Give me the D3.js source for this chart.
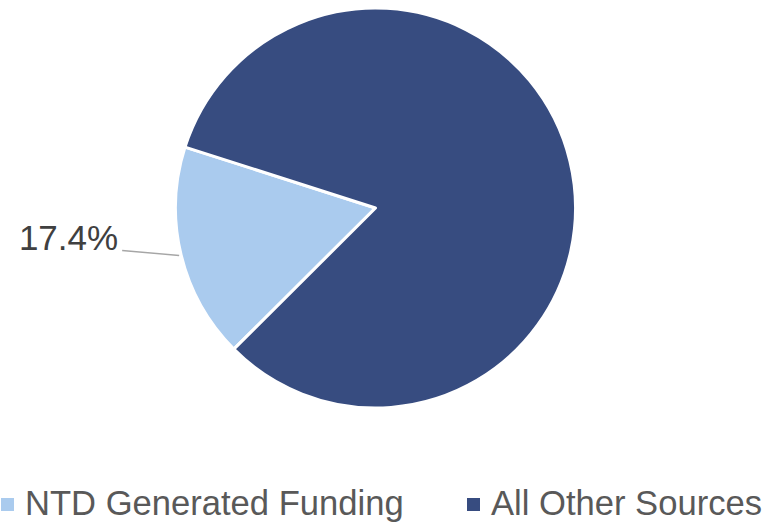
<!DOCTYPE html>
<html>
<head>
<meta charset="utf-8">
<script src="https://cdn.jsdelivr.net/npm/d3@7"></script>
<style>
  body { margin: 0; background: #fff; }
  text { font-family: "Liberation Sans", Arial, sans-serif; fill: #595959; }
</style>
</head>
<body>
<div id="chart"></div>
<script>
// values
let categories = ['NTD Generated Funding', 'All Other Sources']
let values = [17.4, 82.6]
let colors = ['#aacbee', '#374c80']
let labelled = ['NTD Generated Funding']

let width = 778
let height = 524
let cx = 375.5
let cy = 208
let radius = 200

let svg = d3.select('#chart').append('svg')
  .attr('width', width)
  .attr('height', height)

let color = d3.scaleOrdinal().domain(categories).range(colors)

let pie = d3.pie()
  .sort(null)
  .value(d => d.value)
  .startAngle(225.1 * Math.PI / 180)
  .endAngle((225.1 + 360) * Math.PI / 180)

let data = categories.map((c, i) => ({name: c, value: values[i]}))
let arcs = pie(data)

let arc = d3.arc().innerRadius(0).outerRadius(radius)

let g = svg.append('g')
  .attr('transform', `translate(${cx},${cy})`)

g.selectAll('.slice')
  .data(arcs)
  .enter().append('path')
  .attr('class', 'slice')
  .attr('d', arc)
  .style('fill', d => color(d.data.name))
  .style('stroke', '#fff')
  .style('stroke-width', 3)
  .style('stroke-linejoin', 'round')

// data label with leader line
let total = d3.sum(values)
let edge = d3.arc().innerRadius(radius + 2).outerRadius(radius + 2)

arcs.filter(d => labelled.includes(d.data.name)).forEach(d => {
  let p = edge.centroid(d)
  let q = [p[0] - 57, p[1] - 5]
  g.append('polyline')
    .attr('points', [p, q].map(v => v.join(',')).join(' '))
    .style('fill', 'none')
    .style('stroke', '#a6a6a6')
    .style('stroke-width', 1.5)
  g.append('text')
    .attr('x', q[0] - 4)
    .attr('y', q[1])
    .attr('text-anchor', 'end')
    .style('font-size', '35px')
    .style('fill', '#404040')
    .text(d3.format('.1f')(d.data.value / total * 100) + '%')
})

// legend
let legendX = [1, 467]
let legend = svg.append('g')
  .attr('transform', 'translate(0,498)')

let item = legend.selectAll('.item')
  .data(categories)
  .enter().append('g')
  .attr('class', 'item')
  .attr('transform', (d, i) => `translate(${legendX[i]},0)`)

item.append('rect')
  .attr('width', 13)
  .attr('height', 13)
  .style('fill', d => color(d))

item.append('text')
  .attr('x', 24)
  .attr('y', 17)
  .style('font-size', '34.6px')
  .text(d => d)
</script>
</body>
</html>
